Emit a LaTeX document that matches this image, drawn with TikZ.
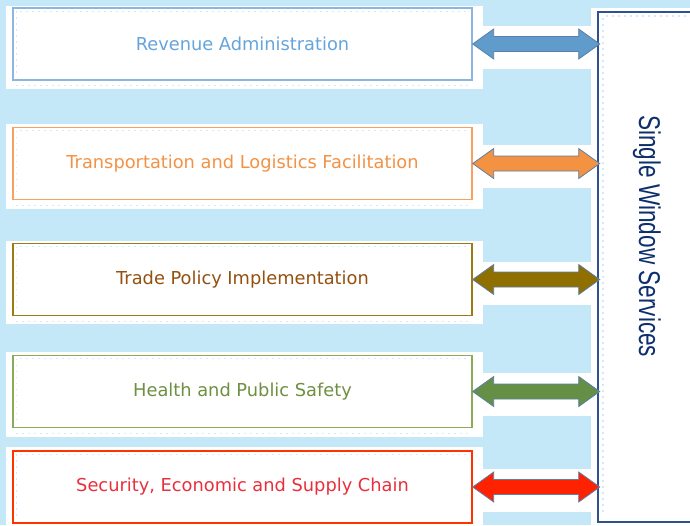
\documentclass[tikz,border=0pt]{standalone}
\usepackage{fontspec}
\setmainfont{DejaVu Sans}
\newfontfamily\panelfont{Liberation Sans}
\usetikzlibrary{calc}
\definecolor{bg}{HTML}{C5E8F8}
\definecolor{dotc}{HTML}{D3E8F8}
\definecolor{panelc}{HTML}{2F528F}
\definecolor{paneltext}{HTML}{0E2F6E}
\definecolor{arrowedge}{HTML}{5A7FA8}
\definecolor{bA}{HTML}{8EB4E3}\definecolor{tA}{HTML}{64A5DC}\definecolor{fA}{HTML}{5F9BCB}
\definecolor{bB}{HTML}{F7A060}\definecolor{tB}{HTML}{F39245}\definecolor{fB}{HTML}{F39241}
\definecolor{bC}{HTML}{9C7B14}\definecolor{tC}{HTML}{94500F}\definecolor{fC}{HTML}{8F6F00}
\definecolor{bD}{HTML}{8CAB5A}\definecolor{tD}{HTML}{6E9040}\definecolor{fD}{HTML}{658F45}
\definecolor{bE}{HTML}{FF3300}\definecolor{tE}{HTML}{EA2F3C}\definecolor{fE}{HTML}{FF2200}
\tikzset{
  labelbox/.style={draw, line width=1.4pt, minimum width=459pt, minimum height=72pt,
    inner sep=0pt, font=\fontsize{17.8}{20}\selectfont},
  dotdeco/.style={dotc, line width=1.3pt, dash pattern=on 1.5pt off 4.5pt},
  arrowline/.style={draw=arrowedge, line width=0.8pt, line join=miter},
  panelline/.style={draw=panelc, line width=1.4pt}
}
\newcommand{\dblarr}[2]{%
  \draw[arrowline, fill=#2] (#1.east) -- ++(21,-15) -- ++(0,7.5) -- ++(85,0) -- ++(0,-7.5)
    -- ++(21,15) -- ++(-21,15) -- ++(0,-7.5) -- ++(-85,0) -- ++(0,7.5) -- cycle;}
\newcommand{\boxdots}[1]{%
  \draw[dotdeco] ($(#1.north west)+(4,4)$) -- ($(#1.south west)+(4,-4)$);
  \draw[dotdeco] ($(#1.north west)+(8,4)$) -- ($(#1.north east)+(-4,4)$);
  \draw[dotdeco] ($(#1.south west)+(4,5)$) -- ($(#1.south east)+(-4,5)$);}
\begin{document}
\begin{tikzpicture}[x=1pt,y=-1pt]
\useasboundingbox (0,0) rectangle (690,525);
\fill[bg] (0,0) rectangle (690,525);
% white backings
\fill[white] (6,6) rectangle (483,89);
\fill[white] (6,124) rectangle (483,209);
\fill[white] (6,241) rectangle (483,324);
\fill[white] (6,352) rectangle (483,437);
\fill[white] (6,447) rectangle (483,530);
\fill[white] (591,8) rectangle (695,530);
\foreach \yc in {44,163,280,391,487} {\fill[white] (483,\yc-18) rectangle (592,\yc+25);}
% boxes
\node[labelbox, draw=bA, text=tA] (rev) at (242.5,44) {Revenue Administration};
\node[labelbox, draw=bB, text=tB] (trans) at (242.5,163.5) {Transportation and Logistics Facilitation};
\node[labelbox, draw=bC, text=tC] (trade) at (242.5,279.5) {Trade Policy Implementation};
\node[labelbox, draw=bD, text=tD] (health) at (242.5,391.5) {Health and Public Safety};
\node[labelbox, draw=bE, text=tE] (sec) at (242.5,487) {Security, Economic and Supply Chain};
\boxdots{rev}\boxdots{trans}\boxdots{trade}\boxdots{health}\boxdots{sec}
% panel
\coordinate (pnw) at (598,12);
\coordinate (psw) at (598,522);
\draw[dotdeco] (603,18) -- (603,516);
\draw[dotdeco] (606,16) -- (695,16);
\draw[panelline] (700,12) -- (pnw) -- (psw) -- (700,522);
\node[rotate=-90, anchor=base west, inner sep=0pt, text=paneltext,
  font=\panelfont\fontsize{30}{32}\selectfont] (sw) at (639,115)
  {\scalebox{0.752}[1]{Single Window Services}};
% arrows
\dblarr{rev}{fA}
\dblarr{trans}{fB}
\dblarr{trade}{fC}
\dblarr{health}{fD}
\dblarr{sec}{fE}
\end{tikzpicture}
\end{document}
